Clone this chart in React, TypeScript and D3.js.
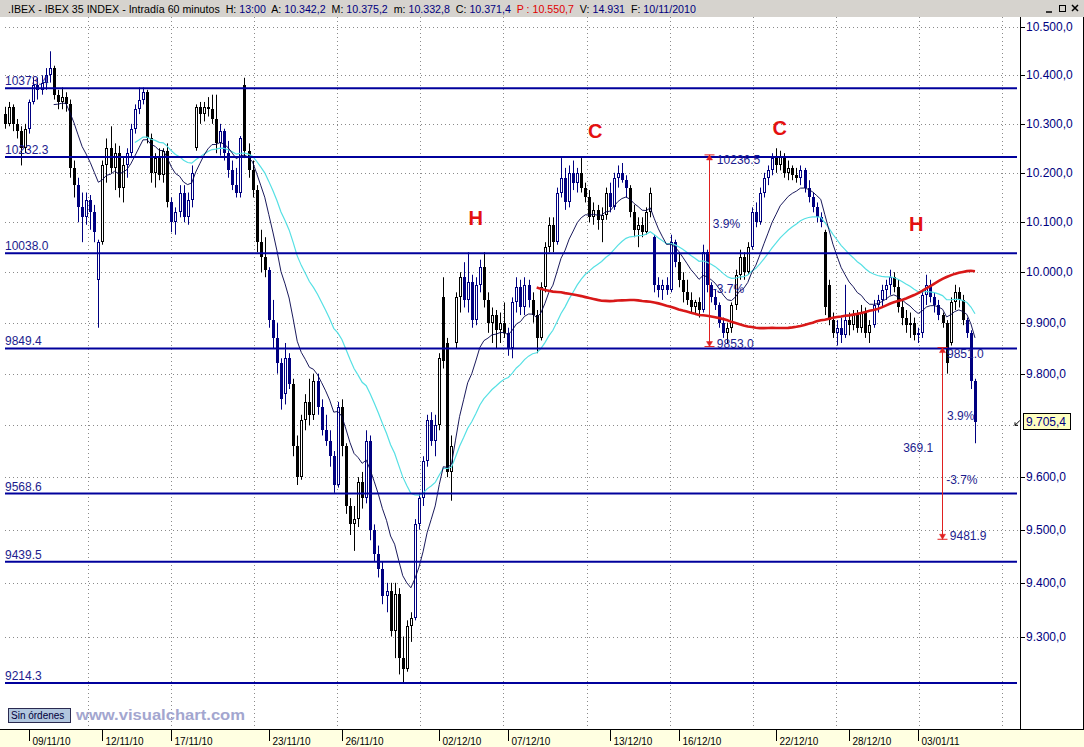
import * as d3 from 'd3';

// hourly bars (resampled)
const opens = [
  10320, 10300, 10335, 10300, 10285, 10250, 10290, 10345, 10380, 10370, 10385, 10400, 10415, 10360, 10345, 10355, 10340, 10210, 10175, 10130,
  10110, 10145, 10120, 9985, 10060, 10215, 10250, 10210, 10240, 10170, 10215, 10240, 10290, 10330, 10350, 10365, 10270, 10200, 10230, 10195,
  10245, 10140, 10100, 10120, 10160, 10110, 10145, 10250, 10335, 10320, 10335, 10330, 10310, 10260, 10285, 10240, 10205, 10175, 10160, 10380,
  10245, 10205, 10165, 10060, 10030, 10005, 9905, 9870, 9820, 9760, 9830, 9780, 9660, 9600, 9710, 9745, 9720, 9785, 9735, 9690,
  9670, 9640, 9585, 9735, 9660, 9545, 9510, 9520, 9590, 9560, 9670, 9500, 9455, 9425, 9375, 9385, 9310, 9380, 9260, 9240,
  9320, 9335, 9510, 9560, 9630, 9710, 9670, 9700, 9950, 9860, 9610, 9860, 9950, 9990, 9945, 9980, 9905, 9975, 10010, 9945,
  9900, 9915, 9885, 9900, 9880, 9850, 9940, 9970, 9930, 9975, 9945, 9915, 9870, 9970, 10050, 10095, 10060, 10160, 10190, 10140,
  10200, 10180, 10200, 10170, 10150, 10110, 10125, 10105, 10115, 10160, 10130, 10190, 10200, 10185, 10170, 10120, 10085, 10095, 10080, 10120,
  10070, 9975, 9965, 9975, 9965, 10060, 10020, 9985, 9960, 9945, 9930, 9940, 9925, 10040, 9975, 9950, 9935, 9900, 9880, 9890,
  9935, 9995, 10030, 10000, 10050, 10120, 10100, 10160, 10190, 10205, 10230, 10215, 10235, 10200, 10210, 10195, 10190, 10205, 10170, 10150,
  10130, 10110, 10080, 9975, 9905, 9880, 9890, 9875, 9905, 9895, 9915, 9890, 9920, 9880, 9895, 9935, 9945, 9965, 9975, 9990,
  9970, 9930, 9910, 9895, 9900, 9875, 9880, 9955, 9975, 9950, 9935, 9915, 9900, 9860, 9940, 9960, 9945, 9905, 9880, 9785,
];
const highs = [
  10335, 10345, 10340, 10310, 10295, 10300, 10350, 10395, 10395, 10400, 10415, 10450, 10420, 10370, 10375, 10365, 10350, 10225, 10190, 10160,
  10160, 10155, 10135, 10065, 10225, 10270, 10295, 10260, 10255, 10230, 10250, 10300, 10340, 10375, 10375, 10370, 10280, 10240, 10250, 10250,
  10260, 10150, 10130, 10175, 10175, 10160, 10215, 10340, 10345, 10345, 10355, 10360, 10360, 10300, 10290, 10265, 10225, 10210, 10275, 10395,
  10260, 10225, 10175, 10085, 10070, 10010, 9945, 9900, 9830, 9860, 9840, 9790, 9680, 9720, 9760, 9790, 9800, 9800, 9750, 9720,
  9690, 9650, 9745, 9750, 9665, 9560, 9545, 9600, 9610, 9690, 9680, 9510, 9470, 9440, 9400, 9400, 9400, 9390, 9300, 9330,
  9345, 9520, 9570, 9640, 9720, 9725, 9720, 9840, 9990, 9870, 9680, 9960, 10000, 10020, 10040, 9995, 9990, 10025, 10040, 9960,
  9930, 9925, 9920, 9940, 9890, 9950, 9990, 9985, 9990, 9985, 9960, 9925, 9980, 10060, 10110, 10110, 10170, 10230, 10210, 10215,
  10225, 10210, 10230, 10180, 10165, 10140, 10135, 10130, 10170, 10180, 10200, 10215, 10220, 10195, 10175, 10135, 10110, 10110, 10130, 10170,
  10075, 9990, 9985, 9990, 10075, 10065, 10040, 10000, 9985, 9960, 9945, 9950, 10055, 10045, 9980, 9965, 9940, 9910, 9900, 9940,
  10005, 10045, 10040, 10060, 10130, 10140, 10170, 10200, 10215, 10240, 10250, 10245, 10240, 10225, 10215, 10210, 10215, 10210, 10185, 10160,
  10140, 10120, 10085, 9985, 9920, 9905, 9910, 9975, 9920, 9925, 9925, 9935, 9930, 9905, 9945, 9955, 9975, 9985, 10005, 10000,
  9985, 9945, 9925, 9920, 9910, 9890, 9965, 9995, 9985, 9960, 9945, 9920, 9905, 9950, 9975, 9970, 9955, 9910, 9885, 9790,
];
const lows = [
  10290, 10295, 10285, 10270, 10215, 10240, 10280, 10340, 10350, 10360, 10370, 10385, 10350, 10330, 10330, 10325, 10190, 10150, 10100, 10060,
  10095, 10085, 10060, 9890, 10055, 10180, 10200, 10165, 10150, 10140, 10190, 10230, 10280, 10320, 10340, 10260, 10180, 10170, 10185, 10180,
  10130, 10080, 10075, 10110, 10100, 10095, 10130, 10245, 10300, 10305, 10315, 10300, 10240, 10235, 10225, 10190, 10165, 10150, 10150, 10230,
  10190, 10150, 10040, 10000, 9990, 9890, 9850, 9800, 9730, 9740, 9770, 9640, 9585, 9595, 9690, 9700, 9710, 9720, 9680, 9660,
  9620, 9570, 9580, 9640, 9530, 9490, 9460, 9505, 9540, 9550, 9480, 9440, 9410, 9360, 9345, 9300, 9260, 9230, 9215, 9235,
  9290, 9330, 9500, 9545, 9620, 9660, 9640, 9690, 9810, 9600, 9555, 9850, 9920, 9930, 9920, 9890, 9895, 9960, 9930, 9880,
  9860, 9850, 9860, 9870, 9835, 9830, 9920, 9915, 9915, 9930, 9900, 9840, 9865, 9960, 10040, 10040, 10055, 10150, 10125, 10130,
  10165, 10160, 10160, 10140, 10100, 10095, 10085, 10060, 10105, 10120, 10125, 10170, 10180, 10150, 10110, 10070, 10050, 10070, 10075, 10110,
  9960, 9950, 9945, 9955, 9960, 10010, 9970, 9940, 9935, 9920, 9915, 9910, 9920, 9960, 9940, 9925, 9890, 9870, 9860, 9880,
  9925, 9985, 9985, 9995, 10045, 10090, 10095, 10150, 10175, 10195, 10200, 10205, 10190, 10185, 10185, 10180, 10175, 10160, 10140, 10120,
  10100, 10090, 9915, 9895, 9870, 9855, 9860, 9870, 9875, 9885, 9880, 9880, 9870, 9860, 9890, 9920, 9930, 9945, 9955, 9960,
  9920, 9895, 9880, 9870, 9865, 9860, 9870, 9935, 9940, 9920, 9905, 9890, 9800, 9855, 9925, 9930, 9895, 9870, 9770, 9665,
];
const closes = [
  10300, 10335, 10300, 10285, 10250, 10290, 10345, 10380, 10370, 10385, 10400, 10415, 10360, 10345, 10355, 10340, 10210, 10175, 10130, 10110,
  10145, 10120, 10080, 10060, 10215, 10250, 10210, 10240, 10170, 10215, 10240, 10290, 10330, 10350, 10365, 10270, 10200, 10230, 10195, 10245,
  10140, 10100, 10120, 10160, 10110, 10145, 10200, 10335, 10320, 10335, 10330, 10310, 10260, 10285, 10240, 10205, 10175, 10160, 10270, 10245,
  10205, 10165, 10060, 10030, 10005, 9905, 9870, 9820, 9750, 9830, 9780, 9660, 9600, 9710, 9745, 9720, 9785, 9735, 9690, 9670,
  9640, 9585, 9735, 9660, 9545, 9510, 9520, 9590, 9560, 9670, 9500, 9455, 9425, 9375, 9385, 9310, 9380, 9260, 9240, 9320,
  9335, 9510, 9560, 9630, 9710, 9670, 9700, 9830, 9825, 9610, 9660, 9950, 9990, 9945, 9980, 9905, 9975, 10010, 9945, 9900,
  9915, 9885, 9900, 9880, 9850, 9940, 9970, 9930, 9975, 9945, 9915, 9870, 9970, 10050, 10095, 10060, 10160, 10190, 10140, 10200,
  10180, 10200, 10170, 10150, 10110, 10125, 10105, 10115, 10160, 10130, 10190, 10200, 10185, 10170, 10120, 10085, 10095, 10080, 10120, 10160,
  9975, 9965, 9975, 9965, 10060, 10020, 9985, 9960, 9945, 9930, 9940, 9925, 10040, 9975, 9950, 9935, 9900, 9880, 9890, 9935,
  9995, 10030, 10000, 10050, 10120, 10100, 10160, 10190, 10205, 10230, 10215, 10235, 10200, 10210, 10195, 10190, 10205, 10170, 10150, 10130,
  10110, 10100, 9930, 9905, 9880, 9890, 9875, 9905, 9895, 9915, 9890, 9920, 9880, 9895, 9935, 9945, 9965, 9975, 9990, 9970,
  9930, 9910, 9895, 9900, 9875, 9880, 9955, 9975, 9950, 9935, 9915, 9900, 9820, 9940, 9960, 9945, 9905, 9880, 9785, 9705.4,
];

// trading sessions and the bar each one starts on
const sessionDates = [
  '08/11/10', '09/11/10', '10/11/10', '11/11/10', '12/11/10', '15/11/10', '16/11/10', '17/11/10', '18/11/10', '19/11/10',
  '22/11/10', '23/11/10', '24/11/10', '25/11/10', '26/11/10', '29/11/10', '30/11/10', '01/12/10', '02/12/10', '03/12/10',
  '06/12/10', '07/12/10', '08/12/10', '09/12/10', '10/12/10', '13/12/10', '14/12/10', '15/12/10', '16/12/10', '17/12/10',
  '20/12/10', '21/12/10', '22/12/10', '23/12/10', '24/12/10', '27/12/10', '28/12/10', '29/12/10', '30/12/10', '03/01/11',
  '04/01/11', '05/01/11',
];
const sessionStarts = [
  0, 6, 12, 18, 24, 30, 35, 41, 47, 53,
  59, 65, 71, 77, 83, 89, 95, 101, 107, 113,
  118, 124, 130, 136, 142, 149, 154, 160, 166, 172,
  178, 184, 190, 196, 202, 205, 208, 214, 219, 225,
  231, 237,
];
const axisDates = ['09/11/10', '12/11/10', '17/11/10', '23/11/10', '26/11/10', '02/12/10', '07/12/10', '13/12/10', '16/12/10', '22/12/10', '28/12/10', '03/01/11'];

const priceTicks = [10500, 10400, 10300, 10200, 10100, 10000, 9900, 9800, 9600, 9500, 9400, 9300];
const gridPrices = [10500, 10400, 10300, 10200, 10100, 10000, 9900, 9800, 9700, 9600, 9500, 9400, 9300];
const levels = [10373.4, 10232.3, 10038.0, 9849.4, 9568.6, 9439.5, 9214.3];
const lastPrice = 9705.4;

// moving averages (bars): two exponential, one simple
const emaFast = 13, emaMid = 33, smaSlow = 132;

// measured moves
const measures = [
  { at: 173.5, top: 10236.5, bottom: 9853.0 },
  { at: 230.9, top: 9851.0, bottom: 9481.9 },
];
const measureLabels = [
  { text: '10236.5', at: 175.4, price: 10226 },
  { text: '3.9%', at: 174.4, price: 10097 },
  { text: '-3.7%', at: 174.4, price: 9966 },
  { text: '9853.0', at: 175.4, price: 9858 },
  { text: '9851.0', at: 232.1, price: 9839 },
  { text: '3.9%', at: 232.1, price: 9718 },
  { text: '369.1', at: 221.3, price: 9656 },
  { text: '-3.7%', at: 231.9, price: 9595 },
  { text: '9481.9', at: 232.8, price: 9489 },
];
const patternMarks = [
  { text: 'H', at: 116.0, price: 10109 },
  { text: 'C', at: 145.4, price: 10285 },
  { text: 'C', at: 190.9, price: 10291 },
  { text: 'H', at: 224.5, price: 10097 },
];

// title bar: [text, colour]
const titleParts: [string, string][] = [
  ['.IBEX - IBEX 35 INDEX - Intradía 60 minutos  H: ', '#000'],
  ['13:00', '#000080'],
  ['  A: ', '#000'],
  ['10.342,2', '#000080'],
  ['  M: ', '#000'],
  ['10.375,2', '#000080'],
  ['  m: ', '#000'],
  ['10.332,8', '#000080'],
  ['  C: ', '#000'],
  ['10.371,4', '#000080'],
  ['  P : 10.550,7', '#e00000'],
  ['  V: ', '#000'],
  ['14.931', '#000080'],
  ['  F: ', '#000'],
  ['10/11/2010', '#000080'],
];

const NAVY = '#000080';
const LINE = '#00009c';
const TXT = '#1c1c8e';
const FONT = 'Liberation Sans, Arial, sans-serif';

function sma(vals: number[], p: number): [number, number][] {
  const out: [number, number][] = [];
  for (let i = p - 1; i < vals.length; i++) out.push([i, d3.mean(vals.slice(i - p + 1, i + 1)) as number]);
  return out;
}

function ema(vals: number[], p: number): [number, number][] {
  const a = 2 / (p + 1);
  let e = d3.mean(vals.slice(0, p)) as number;
  const out: [number, number][] = [[p - 1, e]];
  for (let i = p; i < vals.length; i++) {
    e = a * vals[i] + (1 - a) * e;
    out.push([i, e]);
  }
  return out;
}

export default function App() {
  const n = closes.length;
  const x = d3.scaleLinear().domain([0, n - 1]).range([5, 975]);
  const y = d3.scaleLog().domain([9130.2, 10521.6]).range([729, 17]);
  const es = d3.formatLocale({ decimal: ',', thousands: '.', grouping: [3], currency: ['', ''] }).format(',.1f');
  const f1 = d3.format('.1f');

  const line = d3.line<[number, number]>().x(d => x(d[0])).y(d => y(d[1]));
  const fast = line(ema(closes, emaFast)) || '';
  const mid = line(ema(closes, emaMid)) || '';
  const slow = line(sma(closes, smaSlow)) || '';

  const gridStep = 20.47;
  const vGrid = d3.range(1, 13).map(k => k * gridStep);

  const candles = closes.map((c, i) => {
    const o = opens[i], h = highs[i], l = lows[i];
    const day = d3.bisectRight(sessionStarts, i) - 1;
    const col = day % 2 === 0 ? '#000000' : NAVY;
    const cx = Math.round(x(i));
    const top = Math.round(y(Math.max(o, c)));
    const bot = Math.round(y(Math.min(o, c)));
    const up = c >= o;
    return (
      <g key={i}>
        <line x1={cx + 0.5} x2={cx + 0.5} y1={y(h)} y2={y(l)} stroke={col} strokeWidth={1} />
        {up ? (
          <rect x={cx - 0.5} y={top + 0.5} width={2} height={Math.max(1, bot - top - 1)} fill="#fff" stroke={col} strokeWidth={1} />
        ) : (
          <rect x={cx - 1} y={top} width={3} height={Math.max(1, bot - top)} fill={col} />
        )}
      </g>
    );
  });

  const py = y(lastPrice);

  return (
    <svg width={1084} height={747} style={{ position: 'absolute', left: 0, top: 0, background: '#fff' }} fontFamily={FONT}>
      {/* title bar */}
      <rect x={0} y={0} width={1084} height={17} fill="#d6d3ce" />
      <text x={8} y={12.5} fontSize={10.65} style={{ whiteSpace: 'pre' }}>
        {titleParts.map(([t, c], k) => (
          <tspan key={k} fill={c}>{t}</tspan>
        ))}
      </text>
      <g stroke="#000" strokeWidth={1.5} fill="none">
        <line x1={1046} x2={1052} y1={12} y2={12} />
        <rect x={1059.5} y={5.5} width={6} height={6} strokeWidth={1} />
        <path d="M1072,5 L1078,11 M1078,5 L1072,11" />
      </g>

      {/* dotted grid */}
      <g stroke="#8a8a8a" strokeWidth={1} strokeDasharray="1,3">
        {gridPrices.map(v => (
          <line key={v} x1={5} x2={1020} y1={Math.round(y(v)) + 0.5} y2={Math.round(y(v)) + 0.5} />
        ))}
        {vGrid.map(g => (
          <line key={g} x1={Math.round(x(g)) + 0.5} x2={Math.round(x(g)) + 0.5} y1={17} y2={729} />
        ))}
      </g>

      {/* candles */}
      {candles}

      {/* moving averages */}
      <path d={mid} fill="none" stroke="#56e0e4" strokeWidth={1.2} />
      <path d={fast} fill="none" stroke="#00004a" strokeWidth={0.9} />
      <path d={slow} fill="none" stroke="#d81818" strokeWidth={2.6} />

      {/* horizontal levels */}
      {levels.map(v => (
        <g key={v}>
          <line x1={5} x2={1017} y1={y(v)} y2={y(v)} stroke={LINE} strokeWidth={2} />
          <text x={5} y={y(v) - 3} fontSize={12} fill={TXT}>{f1(v)}</text>
        </g>
      ))}

      {/* measured moves */}
      {measures.map((m, k) => {
        const mx = Math.round(x(m.at)) + 0.5;
        const yt = y(m.top), yb = y(m.bottom);
        return (
          <g key={k} stroke="#e02020" fill="#e02020">
            <line x1={mx} x2={mx} y1={yt} y2={yb} strokeWidth={1} />
            <line x1={mx - 5} x2={mx + 5} y1={yt} y2={yt} strokeWidth={1} />
            <line x1={mx - 5} x2={mx + 5} y1={yb} y2={yb} strokeWidth={1} />
            <path d={`M${mx - 3},${yt + 5} L${mx},${yt} L${mx + 3},${yt + 5}Z`} strokeWidth={0.5} />
            <path d={`M${mx - 3},${yb - 5} L${mx},${yb} L${mx + 3},${yb - 5}Z`} strokeWidth={0.5} />
          </g>
        );
      })}
      {measureLabels.map((t, k) => (
        <text key={k} x={x(t.at)} y={y(t.price)} dominantBaseline="central" fontSize={12} fill={TXT}>{t.text}</text>
      ))}
      {patternMarks.map((t, k) => (
        <text key={k} x={x(t.at)} y={y(t.price)} dominantBaseline="central" textAnchor="middle" fontSize={20} fontWeight="bold" fill="#e41010">{t.text}</text>
      ))}

      {/* right price axis */}
      <line x1={1020.5} x2={1020.5} y1={17} y2={729} stroke="#000" />
      <line x1={1083.5} x2={1083.5} y1={17} y2={729} stroke="#000" />
      {priceTicks.map(v => (
        <g key={v}>
          <line x1={1020} x2={1025} y1={Math.round(y(v)) + 0.5} y2={Math.round(y(v)) + 0.5} stroke="#000" />
          <text x={1026} y={y(v)} dominantBaseline="central" fontSize={12} fill={NAVY}>{es(v)}</text>
        </g>
      ))}
      <g>
        <path d={`M1015,${py + 3} L1020,${py - 2} M1015,${py + 3} L1018,${py + 3} M1015,${py + 3} L1015,${py}`} stroke="#000" fill="none" />
        <rect x={1023.5} y={Math.round(py) - 8.5} width={47} height={16} fill="#ffffc0" stroke="#000" />
        <text x={1026} y={py} dominantBaseline="central" fontSize={12} fill={NAVY}>{es(lastPrice)}</text>
      </g>

      {/* footer */}
      <rect x={8.5} y={708.5} width={62} height={14} fill="#b2c6de" stroke="#2a2a50" />
      <text x={11} y={719} fontSize={10} fill="#00003a">Sin órdenes</text>
      <text x={76} y={720} fontSize={15} fontWeight="bold" fill="#a3a6cf" textLength={169} lengthAdjust="spacingAndGlyphs">www.visualchart.com</text>

      {/* date axis */}
      <rect x={0} y={729} width={1084} height={18} fill="#ffffe1" />
      <line x1={0} x2={1084} y1={729.5} y2={729.5} stroke="#000" />
      {axisDates.map(d => {
        const i = sessionStarts[sessionDates.indexOf(d)];
        const tx = Math.round(x(i)) + 0.5;
        return (
          <g key={d}>
            <line x1={tx} x2={tx} y1={730} y2={741} stroke="#000" />
            <text x={tx + 3} y={745} fontSize={10} fill="#000">{d}</text>
          </g>
        );
      })}
    </svg>
  );
}
